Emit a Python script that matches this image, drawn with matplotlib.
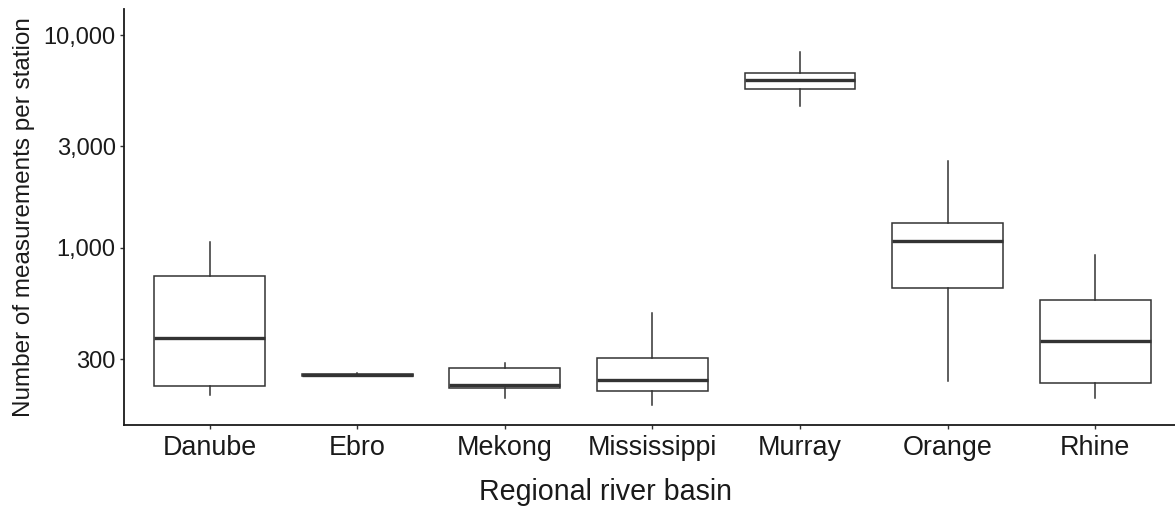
import matplotlib
matplotlib.use("Agg")
import matplotlib.pyplot as plt
from matplotlib.ticker import FixedLocator, FixedFormatter, NullLocator

plt.rcParams["font.family"] = ["Liberation Sans", "DejaVu Sans"]

# ───────────── data ─────────────
basins = ["Danube", "Ebro", "Mekong", "Mississippi", "Murray", "Orange", "Rhine"]
whisk_lo = [203, 251, 198, 183, 4650, 237, 198]
q1 = [225, 251, 219, 212, 5600, 646, 233]
median = [379, 253, 228, 240, 6150, 1075, 365]
q3 = [736, 256, 272, 304, 6615, 1316, 571]
whisk_hi = [1063, 259, 287, 493, 8350, 2550, 931]

y_ticks = [300, 1000, 3000, 10000]
y_labels = ["300", "1,000", "3,000", "10,000"]

# ───────────── plot ─────────────
fig = plt.figure(figsize=(11.75, 5.14), dpi=100)
ax = fig.add_axes([0.1055, 0.173, 0.8945, 0.809])

stats = [
    dict(label=b, whislo=lo, q1=a, med=m, q3=c, whishi=hi, fliers=[])
    for b, lo, a, m, c, hi in zip(basins, whisk_lo, q1, median, q3, whisk_hi)
]

line_col = "#333333"
ax.bxp(
    stats,
    positions=range(1, len(basins) + 1),
    widths=0.75,
    showcaps=False,
    patch_artist=True,
    boxprops=dict(facecolor="white", edgecolor=line_col, linewidth=1.1),
    whiskerprops=dict(color=line_col, linewidth=1.1),
    medianprops=dict(color=line_col, linewidth=2.4, solid_capstyle="butt"),
)

ax.set_yscale("log")
ax.set_ylim(147, 13240)
ax.set_xlim(0.42, 7.54)
ax.yaxis.set_major_locator(FixedLocator(y_ticks))
ax.yaxis.set_major_formatter(FixedFormatter(y_labels))
ax.yaxis.set_minor_locator(NullLocator())

ax.set_xticks(range(1, len(basins) + 1))
ax.set_xticklabels(basins)

ax.tick_params(axis="both", length=3, width=1.0, color=line_col, colors="#1a1a1a")
ax.tick_params(axis="x", labelsize=19.4, pad=4)
ax.tick_params(axis="y", labelsize=17, pad=3)

ax.set_xlabel("Regional river basin", fontsize=20.6, color="#1a1a1a")
ax.xaxis.set_label_coords(0.4577, -0.128)
ax.set_ylabel("Number of measurements per station", fontsize=17.5, labelpad=6, color="#1a1a1a")

for s in ("top", "right"):
    ax.spines[s].set_visible(False)
for s in ("left", "bottom"):
    ax.spines[s].set_linewidth(1.3)
    ax.spines[s].set_color("#1a1a1a")

fig.savefig("out.png", dpi=100)
plt.close(fig)
